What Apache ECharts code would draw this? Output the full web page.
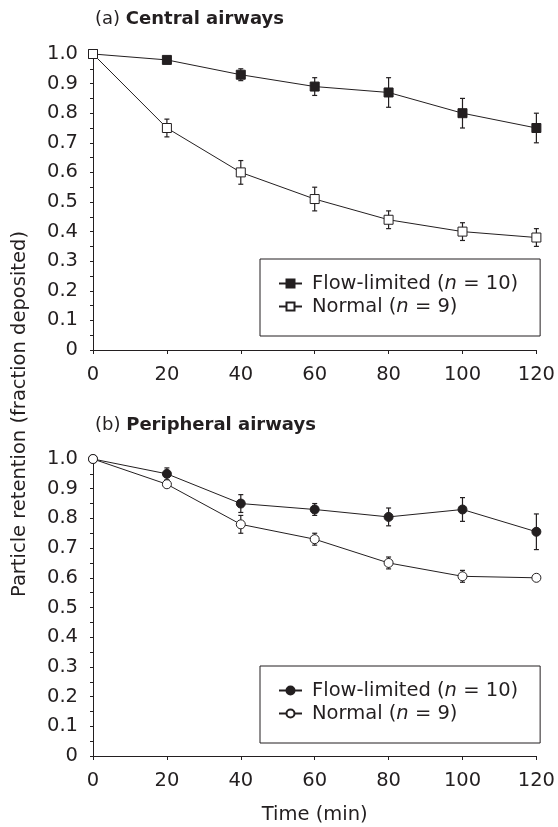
<!DOCTYPE html>
<html>
<head>
<meta charset="utf-8">
<script src="https://cdn.jsdelivr.net/npm/echarts@6/dist/echarts.min.js"></script>
<style>
  html, body { margin: 0; padding: 0; background: #fff; }
  #main { width: 558px; height: 827px; }
</style>
</head>
<body>
<div id="main"></div>
<script>
// time points (min)
var times = [0, 20, 40, 60, 80, 100, 120];

// (a) central airways
var centralFlow = [1.0, 0.98, 0.93, 0.89, 0.87, 0.80, 0.75];
var centralFlowErr = [0, 0.01, 0.02, 0.03, 0.05, 0.05, 0.05];
var centralNormal = [1.0, 0.75, 0.60, 0.51, 0.44, 0.40, 0.38];
var centralNormalErr = [0, 0.03, 0.04, 0.04, 0.03, 0.03, 0.03];

// (b) peripheral airways
var periphFlow = [1.0, 0.95, 0.85, 0.83, 0.805, 0.83, 0.755];
var periphFlowErr = [0, 0.02, 0.03, 0.02, 0.03, 0.04, 0.06];
var periphNormal = [1.0, 0.915, 0.78, 0.73, 0.65, 0.605, 0.60];
var periphNormalErr = [0, 0.01, 0.03, 0.02, 0.02, 0.02, 0.01];

var legendNames = {
  aFlow: 'Flow-limited ({i|n} = 10)',
  aNormal: 'Normal ({i|n} = 9)',
  bFlow: 'Flow-limited ({i|n} = 10)',
  bNormal: 'Normal ({i|n} = 9)'
};

var ink = '#231f20';
var font = 'DejaVu Sans';
var fs = 19.5;
var titleFs = 18;

function pairs(ys) {
  return times.map(function (t, i) { return [t, ys[i]]; });
}
function errData(ys, es) {
  var out = [];
  for (var i = 0; i < times.length; i++) {
    if (es[i] > 0) out.push([times[i], ys[i] - es[i], ys[i] + es[i]]);
  }
  return out;
}
function renderErr(params, api) {
  var x = api.value(0);
  var top = api.coord([x, api.value(2)]);
  var bot = api.coord([x, api.value(1)]);
  var w = 2.5;
  var st = { stroke: ink, lineWidth: 1.2 };
  return {
    type: 'group',
    children: [
      { type: 'line', shape: { x1: top[0], y1: top[1], x2: bot[0], y2: bot[1] }, style: st },
      { type: 'line', shape: { x1: top[0] - w, y1: top[1], x2: top[0] + w, y2: top[1] }, style: st },
      { type: 'line', shape: { x1: bot[0] - w, y1: bot[1], x2: bot[0] + w, y2: bot[1] }, style: st }
    ]
  };
}

function xAxisCfg(idx, withName) {
  var a = {
    type: 'value', gridIndex: idx, min: 0, max: 120, interval: 20,
    axisLine: { lineStyle: { color: ink, width: 1 } },
    axisTick: { show: true, length: 4, lineStyle: { color: ink } },
    axisLabel: { color: ink, fontSize: fs, fontFamily: font, margin: 15 },
    splitLine: { show: false }
  };
  if (withName) {
    a.name = 'Time (min)';
    a.nameLocation = 'middle';
    a.nameGap = 49;
    a.nameTextStyle = { color: ink, fontSize: fs, fontFamily: font };
  }
  return a;
}
function yAxisCfg(idx) {
  return {
    type: 'value', gridIndex: idx, min: 0, max: 1, interval: 0.1,
    axisLine: { show: true, lineStyle: { color: ink, width: 1 } },
    axisTick: { show: true, length: 3, lineStyle: { color: ink } },
    minorTick: { show: true, splitNumber: 2, length: 3, lineStyle: { color: ink } },
    axisLabel: {
      color: ink, fontSize: fs, fontFamily: font, margin: 15,
      formatter: function (v) { return v === 0 ? '0' : v.toFixed(1); }
    },
    splitLine: { show: false }
  };
}

function lineSeries(name, idx, ys, symbol, filled) {
  return {
    name: name, type: 'line', xAxisIndex: idx, yAxisIndex: idx,
    data: pairs(ys), symbol: symbol, symbolSize: 9, z: 3,
    lineStyle: { color: ink, width: 1 },
    itemStyle: { color: filled ? ink : '#fff', borderColor: ink, borderWidth: 1 },
    emphasis: { disabled: true }
  };
}
function errSeries(idx, ys, es) {
  return {
    type: 'custom', xAxisIndex: idx, yAxisIndex: idx, z: 2,
    data: errData(ys, es), renderItem: renderErr,
    encode: { x: 0, y: [1, 2] }, silent: true
  };
}

function legendCfg(top, names) {
  return {
    orient: 'vertical', left: 260, top: top,
    data: names, itemWidth: 23, itemHeight: 10, itemGap: 2,
    padding: [14, 22, 19, 18],
    borderColor: ink, borderWidth: 1, selectedMode: false,
    formatter: function (n) { return legendNames[n]; },
    textStyle: {
      color: ink, fontSize: fs, fontFamily: font, lineHeight: 21, padding: [0, 0, 0, 5],
      rich: { i: { fontStyle: 'italic', fontSize: fs, fontFamily: font, color: ink } }
    }
  };
}

function titleStyle() {
  return {
    color: ink, fontSize: titleFs, fontWeight: 'normal', fontFamily: font,
    rich: { b: { fontWeight: 'bold', fontSize: titleFs, fontFamily: font, color: ink } }
  };
}

var chart = echarts.init(document.getElementById('main'));
chart.setOption({
  backgroundColor: '#fff',
  animation: false,
  title: [
    { text: '(a) {b|Central airways}', left: 95, top: 10, padding: 0, textStyle: titleStyle() },
    { text: '(b) {b|Peripheral airways}', left: 95, top: 416, padding: 0, textStyle: titleStyle() }
  ],
  graphic: [{
    type: 'text', x: 20, y: 414, rotation: Math.PI / 2,
    style: {
      text: 'Particle retention (fraction deposited)', fill: ink,
      fontSize: fs, fontFamily: font, align: 'center', verticalAlign: 'middle'
    }
  }],
  legend: [
    legendCfg(259, ['aFlow', 'aNormal']),
    legendCfg(666, ['bFlow', 'bNormal'])
  ],
  grid: [
    { left: 93, top: 54, width: 447, height: 296 },
    { left: 93, top: 459, width: 447, height: 297 }
  ],
  xAxis: [xAxisCfg(0, false), xAxisCfg(1, true)],
  yAxis: [yAxisCfg(0), yAxisCfg(1)],
  series: [
    errSeries(0, centralFlow, centralFlowErr),
    errSeries(0, centralNormal, centralNormalErr),
    lineSeries('aFlow', 0, centralFlow, 'rect', true),
    lineSeries('aNormal', 0, centralNormal, 'rect', false),
    errSeries(1, periphFlow, periphFlowErr),
    errSeries(1, periphNormal, periphNormalErr),
    lineSeries('bFlow', 1, periphFlow, 'circle', true),
    lineSeries('bNormal', 1, periphNormal, 'circle', false)
  ]
});
</script>
</body>
</html>
